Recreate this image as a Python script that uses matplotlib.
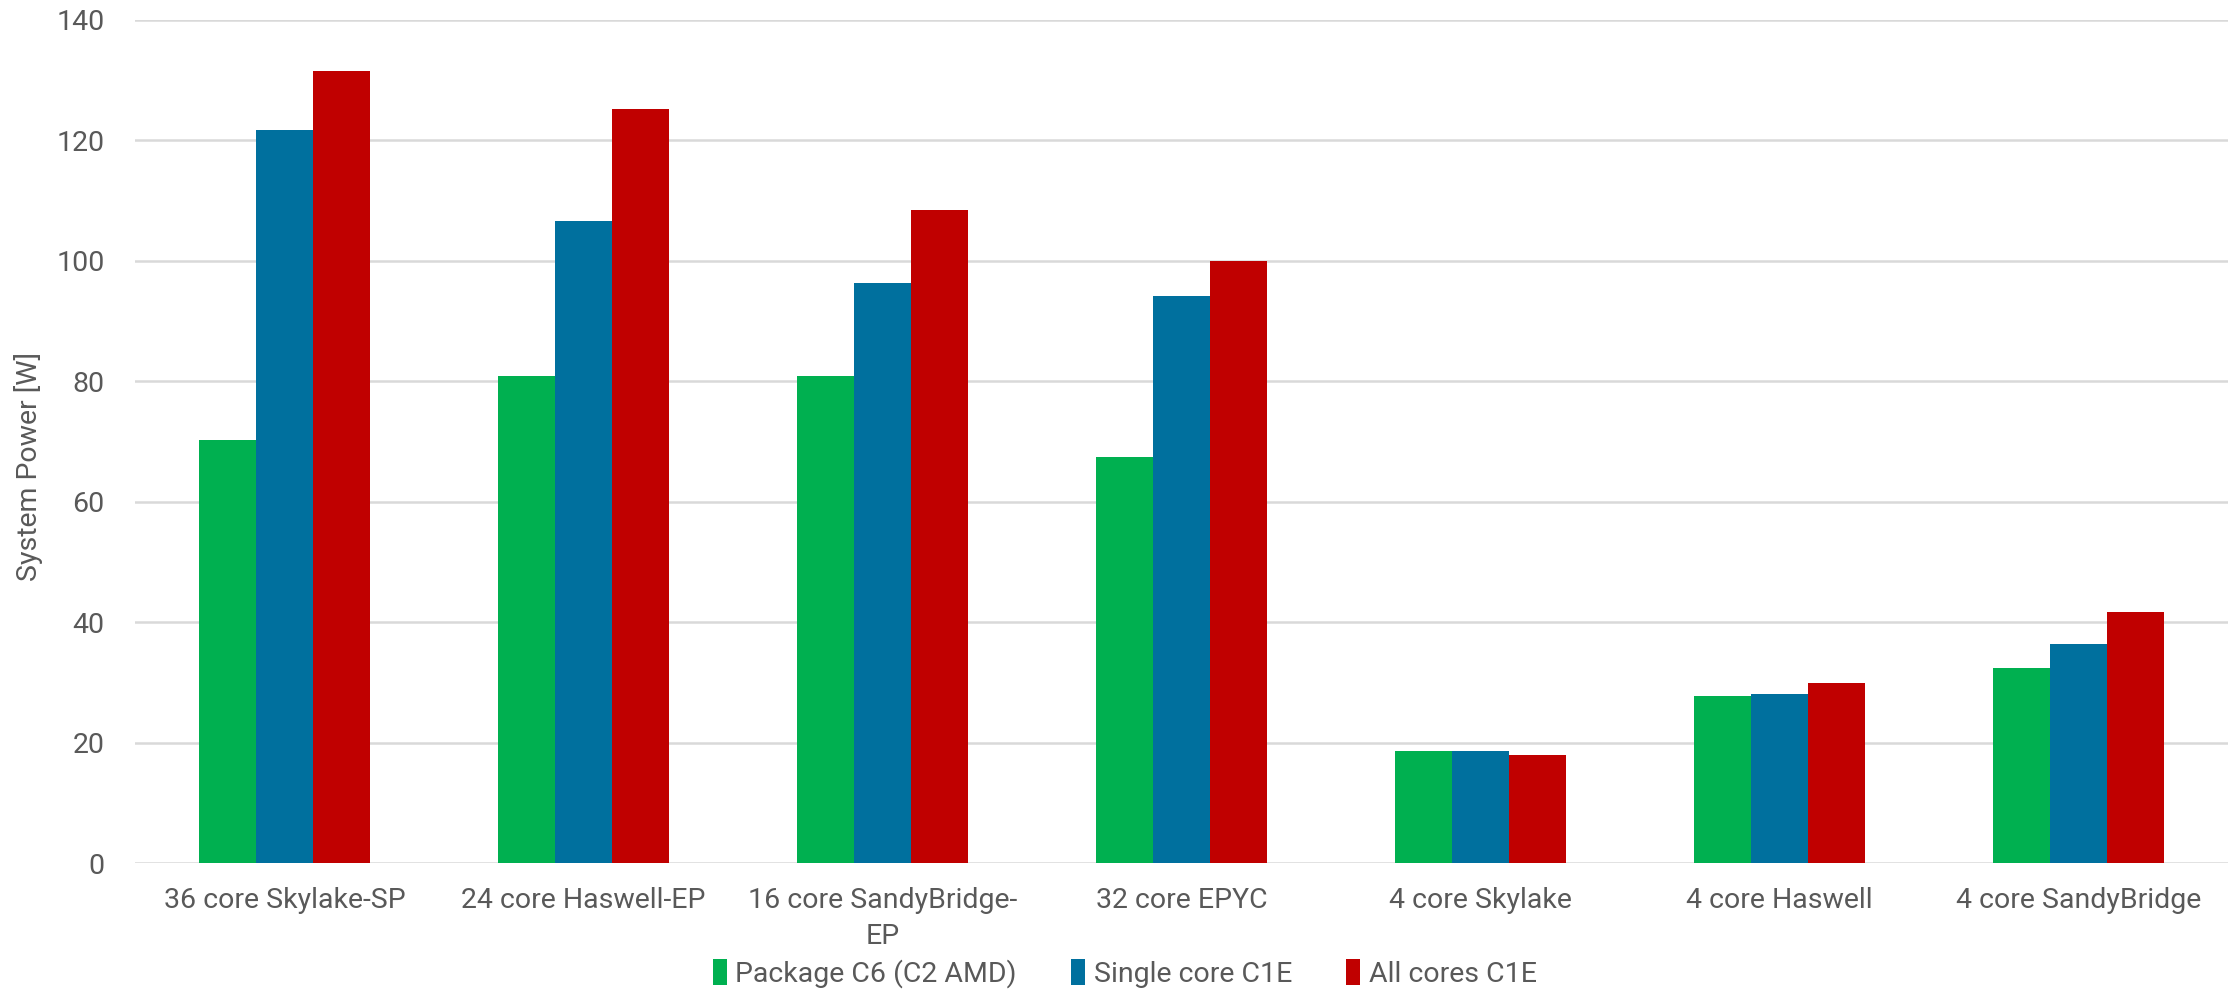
import numpy as np
import matplotlib
matplotlib.use("Agg")
import matplotlib.pyplot as plt

# data
categories = ["36 core Skylake-SP", "24 core Haswell-EP", "16 core SandyBridge-\nEP",
              "32 core EPYC", "4 core Skylake", "4 core Haswell", "4 core SandyBridge"]
package_c6 = [70.2, 80.9, 80.8, 67.4, 18.6, 27.7, 32.4]
single_core_c1e = [121.8, 106.7, 96.3, 94.2, 18.6, 28.1, 36.3]
all_cores_c1e = [131.5, 125.2, 108.5, 100.0, 17.9, 29.9, 41.7]
series_names = ["Package C6 (C2 AMD)", "Single core C1E", "All cores C1E"]
y_ticks = [0, 20, 40, 60, 80, 100, 120, 140]

plt.rcParams['font.family'] = ['Roboto', 'DejaVu Sans']
text_color = '#595959'
fs = 20.5

fig = plt.figure(figsize=(22.36, 9.96), dpi=100)
ax = fig.add_axes([135 / 2236, 1 - 863 / 996, (2228 - 135) / 2236, (863 - 20) / 996])

x = np.arange(len(categories))
w = 0.19
colors = ['#00B050', '#00709E', '#C00000']
for i, (vals, name) in enumerate(zip([package_c6, single_core_c1e, all_cores_c1e], series_names)):
    ax.bar(x + (i - 1) * w, vals, width=w, color=colors[i], label=name, zorder=3)

ax.set_xlim(-0.5, len(categories) - 0.5)
ax.set_ylim(0, 140)
ax.set_yticks(y_ticks)
ax.set_xticks(x)
ax.set_xticklabels(categories, fontsize=fs, color=text_color, linespacing=1.45)
ax.tick_params(axis='y', labelsize=fs, colors=text_color, length=0, pad=22)
ax.tick_params(axis='x', length=0, pad=17)
ax.grid(axis='y', color='#d9d9d9', linewidth=1.8, zorder=0)
for s in ax.spines.values():
    s.set_visible(False)
ax.set_ylabel("System Power [W]", fontsize=fs, color=text_color)
ax.yaxis.set_label_coords(-0.044, 0.47)

leg = fig.legend(loc='lower center', bbox_to_anchor=(0.503, -0.018), ncol=3, frameon=False,
                 fontsize=fs, handlelength=0.5, handleheight=1.0, handletextpad=0.3,
                 columnspacing=1.9)
for t in leg.get_texts():
    t.set_color(text_color)

fig.savefig("out.png", dpi=100)
